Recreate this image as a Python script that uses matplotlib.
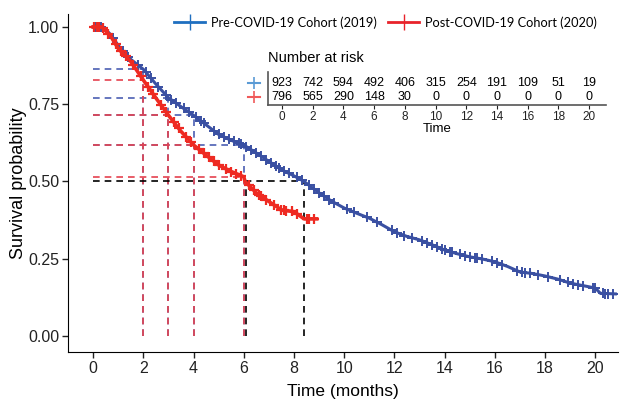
import numpy as np
import matplotlib.pyplot as plt
from matplotlib.lines import Line2D

# Kaplan-Meier estimates read at selected times (months)
pre_t = [0, 0.4, 0.7, 1.0, 1.5, 2.0, 2.5, 3.0, 3.5, 4.0, 4.5, 5.0, 5.5, 6.0, 6.5,
         7.0, 7.5, 8.0, 8.4, 9.0, 9.5, 10.0, 10.5, 11.0, 11.5, 12.0, 12.5, 13.0,
         13.5, 14.0, 14.5, 15.0, 15.5, 16.0, 16.5, 17.0, 17.5, 18.0, 18.5, 19.0,
         19.5, 20.0, 20.2, 20.8]
pre_s = [1.0, 1.0, 0.975, 0.94, 0.895, 0.863, 0.815, 0.771, 0.742, 0.714, 0.683,
         0.652, 0.633, 0.618, 0.592, 0.565, 0.538, 0.518, 0.50, 0.463, 0.436,
         0.414, 0.397, 0.381, 0.360, 0.337, 0.322, 0.311, 0.295, 0.278, 0.266,
         0.256, 0.249, 0.240, 0.225, 0.207, 0.202, 0.194, 0.184, 0.171, 0.163,
         0.155, 0.138, 0.136]

post_t = [0, 0.35, 0.7, 1.0, 1.5, 2.0, 2.5, 3.0, 3.5, 4.0, 4.5, 5.0, 5.5, 6.0,
          6.05, 6.5, 7.0, 7.5, 8.0, 8.4, 8.9]
post_s = [1.0, 1.0, 0.97, 0.93, 0.888, 0.828, 0.77, 0.714, 0.662, 0.618, 0.585,
          0.553, 0.532, 0.515, 0.50, 0.463, 0.435, 0.408, 0.402, 0.379, 0.379]

# Censoring times
pre_cens = [0.1, 0.2, 0.3, 0.8, 1.2, 1.4, 1.8, 2.1, 2.3, 2.6, 2.9, 3.1, 3.3, 3.6,
            3.8, 4.1, 4.3, 4.4, 4.8, 5.0, 5.2, 5.4, 5.6, 5.8, 5.9, 6.1, 6.3,
            6.5, 6.7, 6.9, 7.1, 7.3, 7.4, 7.6, 7.8, 8.1, 8.3, 8.6, 8.8, 9.0,
            9.2, 9.4, 9.6, 10.1, 10.4, 10.9, 11.3, 11.9, 12.1, 12.4, 12.7,
            13.1, 13.3, 13.5, 13.7, 13.9, 14.0, 14.2, 14.3, 14.6, 14.8, 15.0,
            15.2, 15.3, 15.5, 15.9, 16.1, 16.3, 16.9, 17.1, 17.2, 17.4, 17.7,
            18.1, 18.6, 18.9, 19.1, 19.3, 19.5, 19.9, 20.0, 20.3, 20.4, 20.5,
            20.7]
post_cens = [0.05, 0.15, 0.25, 0.4, 0.6, 0.9, 1.1, 1.3, 1.6, 1.9, 2.2, 2.4, 2.7,
             2.9, 3.2, 3.4, 3.7, 3.9, 4.2, 4.4, 4.6, 4.8, 5.0, 5.3, 5.5, 5.7,
             5.9, 6.2, 6.4, 6.6, 6.7, 6.9, 7.2, 7.5, 7.6, 7.7, 7.9, 8.1, 8.5,
             8.6, 8.8]

# Survival at landmark times and medians
land_t = [2, 3, 4, 6]
pre_land = [0.863, 0.771, 0.714, 0.618]
post_land = [0.828, 0.714, 0.618, 0.515]
medians = [6.1, 8.4]

# Number at risk table
risk_times = [0, 2, 4, 6, 8, 10, 12, 14, 16, 18, 20]
pre_risk = [923, 742, 594, 492, 406, 315, 254, 191, 109, 51, 19]
post_risk = [796, 565, 290, 148, 30, 0, 0, 0, 0, 0, 0]

blue = '#3a50a2'
red = '#ee2a22'
blue_dash = '#4b5fb3'
red_dash = '#e5424f'

plt.rcParams['font.family'] = ['Liberation Sans', 'DejaVu Sans']

fig = plt.figure(figsize=(6.21, 4.0), dpi=100)
ax = fig.add_axes([0.11, 0.12, 0.885, 0.845])

# Reference lines
dash = dict(linestyle=(0, (4, 3)), linewidth=1.2)
for t, s in zip(land_t, pre_land):
    ax.plot([0, t], [s, s], color=blue_dash, **dash)
    ax.plot([t, t], [0, s], color=blue_dash, **dash)
for t, s in zip(land_t, post_land):
    ax.plot([0, t], [s, s], color=red_dash, **dash)
    ax.plot([t, t], [0, s], color=red_dash, **dash)
ax.plot([0, max(medians)], [0.5, 0.5], color='black', **dash)
for m in medians:
    ax.plot([m, m], [0, 0.5], color='black', **dash)

# Survival curves with censoring marks
ax.plot(pre_t, pre_s, color=blue, linewidth=2.2)
ax.plot(pre_cens, np.interp(pre_cens, pre_t, pre_s), '+', color=blue,
        markersize=7, markeredgewidth=1.4, linestyle='none')
ax.plot(post_t, post_s, color=red, linewidth=2.6)
ax.plot(post_cens, np.interp(post_cens, post_t, post_s), '+', color=red,
        markersize=7, markeredgewidth=1.6, linestyle='none')

ax.set_xlim(-0.99, 20.9)
ax.set_ylim(-0.052, 1.042)
ax.set_xticks(range(0, 21, 2))
ax.set_yticks([0, 0.25, 0.5, 0.75, 1.0])
ax.set_yticklabels(['0.00', '0.25', '0.50', '0.75', '1.00'])
ax.tick_params(labelsize=11.5, length=4, width=1, colors='#222222', pad=2.5)
for side in ['top', 'right']:
    ax.spines[side].set_visible(False)
ax.set_xlabel('Time (months)', fontsize=12.5, labelpad=6)
ax.set_ylabel('Survival probability', fontsize=13, labelpad=1)

# Legend
handles = [Line2D([], [], color='#1f6fc0', marker='|', markersize=12, linewidth=2),
           Line2D([], [], color='#e8222a', marker='|', markersize=12, linewidth=2)]
ax.legend(handles, ['Pre-COVID-19 Cohort (2019)', 'Post-COVID-19 Cohort (2020)'],
          loc='center left', bbox_to_anchor=(0.193, 0.975), ncol=2, frameon=False,
          prop={'family': 'Lato', 'size': 9.2}, handlelength=2.4,
          handletextpad=0.45, columnspacing=0.9, borderpad=0, borderaxespad=0)

# Number at risk inset
tax = fig.add_axes([268 / 621, 1 - 105 / 400, 338 / 621, 33 / 400])
for x, a, b in zip(risk_times, pre_risk, post_risk):
    tax.text(x, 1, str(a), ha='center', va='center', fontsize=9)
    tax.text(x, 0, str(b), ha='center', va='center', fontsize=9)
tax.set_xlim(-0.91, 21.1)
tax.set_ylim(-0.55, 1.75)
tax.set_xticks(risk_times)
tax.set_yticks([])
tax.tick_params(axis='x', labelsize=8.5, length=3, pad=1.5, colors='#222222')
tax.patch.set_alpha(0)
for side in ['top', 'right']:
    tax.spines[side].set_visible(False)
for side in ['left', 'bottom']:
    tax.spines[side].set_color('#555555')
    tax.spines[side].set_linewidth(1.2)
tax.set_xlabel('Time', fontsize=9.5, labelpad=0)
tax.set_title('Number at risk', fontsize=10.5, loc='left', pad=7)
tax.plot([-1.8], [1], '+', color='#5b9bd5', markersize=9,
         markeredgewidth=1.2, clip_on=False)
tax.plot([-1.8], [0], '+', color='#f05a5a', markersize=9,
         markeredgewidth=1.2, clip_on=False)
tax.plot([-2.2, -1.4], [1, 1], color='#5b9bd5', linewidth=1.5, clip_on=False)
tax.plot([-2.2, -1.4], [0, 0], color='#f05a5a', linewidth=1.5, clip_on=False)

fig.savefig('out.png', dpi=100)
